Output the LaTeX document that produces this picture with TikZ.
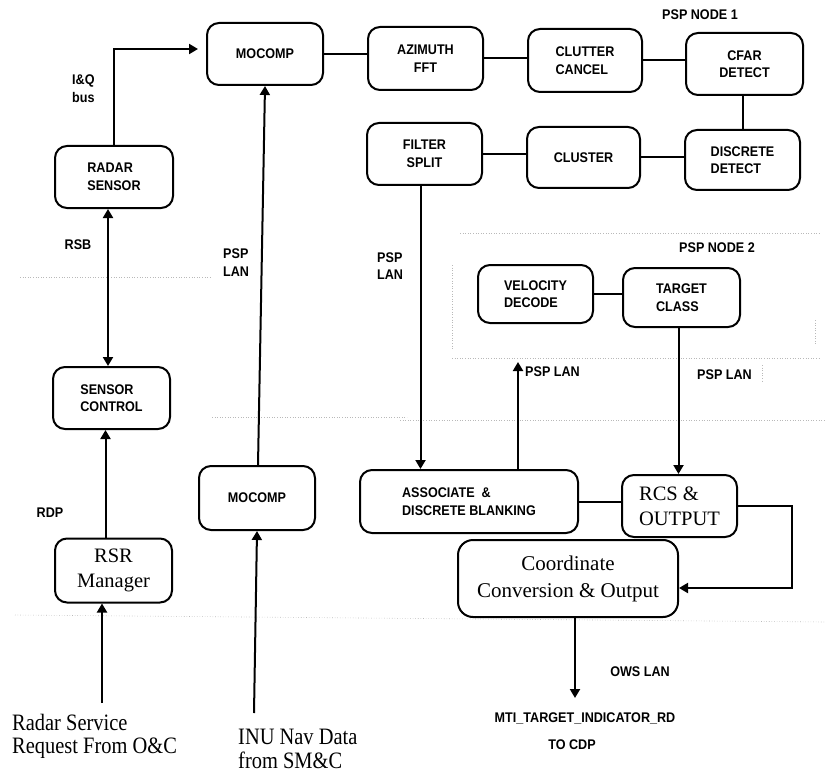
\documentclass[tikz,border=0pt]{standalone}
\usepackage{fontspec}
\setmainfont{Liberation Serif}
\setsansfont{Liberation Sans}
\newfontfamily\lblfam[FakeStretch=0.9]{Liberation Sans}
\newfontfamily\serfam[FakeStretch=0.87]{Liberation Serif}
\usetikzlibrary{arrows.meta}
\newcommand\lblfont{\lblfam\bfseries\fontsize{14}{17.5}\selectfont}
\newcommand\bigserif{\rmfamily\fontsize{20.5}{25}\selectfont}
\tikzset{
  box/.style={draw, line width=2pt, rounded corners=12pt, font=\lblfont, align=left, inner sep=0pt},
  sbox/.style={box, font=\bigserif},
  wh/.style 2 args={minimum width=#1pt, minimum height=#2pt},
  conn/.style={line width=2pt},
  arr/.style={conn, -{Triangle[length=9pt,width=10pt]}},
  darr/.style={conn, {Triangle[length=9pt,width=10pt]}-{Triangle[length=9pt,width=10pt]}},
  lbl/.style={font=\lblfont, align=left, inner sep=0pt},
  slbl/.style={align=left, inner sep=0pt},
  faint/.style={gray!55, line width=0.6pt, dotted}
}
\begin{document}
\begin{tikzpicture}[x=1pt,y=-1pt]
\useasboundingbox (0,0) rectangle (825,773);
% faint dotted region borders
\draw[faint] (20,277) -- (210,277);
\draw[faint] (212,417) -- (407,417);
\draw[faint] (400,420) -- (825,420);
\draw[faint] (15,615) -- (825,622);
\draw[faint] (460,233) -- (820,233);
\draw[faint] (452,358) -- (820,358);
\draw[faint] (452,265) -- (452,350);
\draw[faint] (815,320) -- (815,345);
\draw[faint] (762,365) -- (762,383);

% nodes
\node[box, wh={116}{62}, align=center] (moc1) at (265,54) {MOCOMP};
\node[box, wh={115}{63}, align=center] (azi) at (425.5,58.5) {AZIMUTH\\FFT};
\node[box, wh={114}{63}] (clut) at (585,60.5) {CLUTTER\\CANCEL};
\node[box, wh={117}{62}, align=center] (cfar) at (744.5,64) {CFAR\\DETECT};
\node[box, wh={115}{62}, align=center] (filt) at (424.5,154) {FILTER\\SPLIT};
\node[box, wh={113}{61}] (clus) at (583.5,157.5) {CLUSTER};
\node[box, wh={115}{60}] (disc) at (742.5,160) {DISCRETE\\DETECT};
\node[box, wh={115}{58}] (velo) at (535.5,294) {VELOCITY\\DECODE};
\node[box, wh={117}{59}] (targ) at (681.5,297.5) {TARGET\\CLASS};
\node[box, wh={118}{62}] (radar) at (114,177) {RADAR\\SENSOR};
\node[box, wh={117}{62}] (sctl) at (111.5,398) {SENSOR\\CONTROL};
\node[sbox, wh={117}{64}, align=center] (rsr) at (113.5,570.5) {RSR\\Manager};
\node[box, wh={116}{64}, align=center] (moc2) at (257,498) {MOCOMP};
\node[box, wh={218}{63}] (assoc) at (469,501.5) {ASSOCIATE\ \ \&\\DISCRETE BLANKING};
\node[sbox, wh={115}{62}] (rcs) at (679.5,506) {RCS \&\\OUTPUT};
\node[sbox, wh={220}{77}, rounded corners=15pt, align=center, font=\rmfamily\fontsize{21}{27}\selectfont] (coord) at (568,578.5) {Coordinate\\Conversion \& Output};

% free ends
\coordinate (iqend) at (198,49);
\coordinate (pspup) at (518,362);
\coordinate (loopc) at (792,506);
\coordinate (outend) at (575,698);
\coordinate (rsq) at (102,703);
\coordinate (inu) at (254,713);

% connectors
\draw[arr] (radar.north) |- (iqend);
\draw[conn] (moc1.east) -- (moc1.east -| azi.west);
\draw[conn] (azi.east) -- (azi.east -| clut.west);
\draw[conn] (clut.east) -- (clut.east -| cfar.west);
\draw[conn] ([xshift=-1.5pt]cfar.south) -- ([xshift=-1.5pt]cfar.south |- disc.north);
\draw[conn] (filt.east) -- (filt.east -| clus.west);
\draw[conn] (clus.east) -- (clus.east -| disc.west);
\draw[conn] (velo.east) -- (velo.east -| targ.west);
\draw[darr] ([xshift=-6pt]radar.south) -- ([xshift=-6pt]radar.south |- sctl.north);
\draw[arr] ([xshift=-8pt]rsr.north) -- ([xshift=-8pt]rsr.north |- sctl.south);
\draw[arr] ([xshift=1pt]moc2.north) -- (moc1.south);
\draw[arr] (inu) -- (moc2.south);
\draw[arr] (rsq) -- (rsq |- rsr.south);
\draw[arr] ([xshift=-4pt]filt.south) -- ([xshift=-4pt]filt.south |- assoc.north);
\draw[arr] (pspup |- assoc.north) -- (pspup);
\draw[arr] ([xshift=-3pt]targ.south) -- ([xshift=-3pt]targ.south |- rcs.north);
\draw[conn] (assoc.east) -- (assoc.east -| rcs.west);
\draw[arr] (rcs.east) -- (loopc) |- ([yshift=-9.5pt]coord.east);
\draw[arr] (outend |- coord.south) -- (outend);

% labels
\node[lbl] (pn1) at (700,15) {PSP NODE 1};
\node[lbl] (pn2) at (717,248) {PSP NODE 2};
\node[lbl, anchor=west] (iq) at (72,88.5) {I\&Q\\bus};
\node[lbl] (rsb) at (78,245) {RSB};
\node[lbl, anchor=west] (psp1) at (223,262.5) {PSP\\LAN};
\node[lbl, anchor=west] (psp2) at (377,266) {PSP\\LAN};
\node[lbl, anchor=west] (psp3) at (525,372) {PSP LAN};
\node[lbl, anchor=west] (psp4) at (697,375) {PSP LAN};
\node[lbl] (rdp) at (50,513) {RDP};
\node[lbl] (ows) at (640,672) {OWS LAN};
\node[lbl] (mti) at (585,718) {MTI\_TARGET\_INDICATOR\_RD};
\node[lbl] (cdp) at (572,745) {TO CDP};
\node[slbl, anchor=west, font=\serfam\fontsize{23.5}{23}\selectfont] (rsqt) at (12,736.5) {Radar Service\\Request From O\&C};
\node[slbl, anchor=west, font=\serfam\fontsize{23.5}{24}\selectfont] (inut) at (238,749) {INU Nav Data\\from SM\&C};
\end{tikzpicture}
\end{document}
